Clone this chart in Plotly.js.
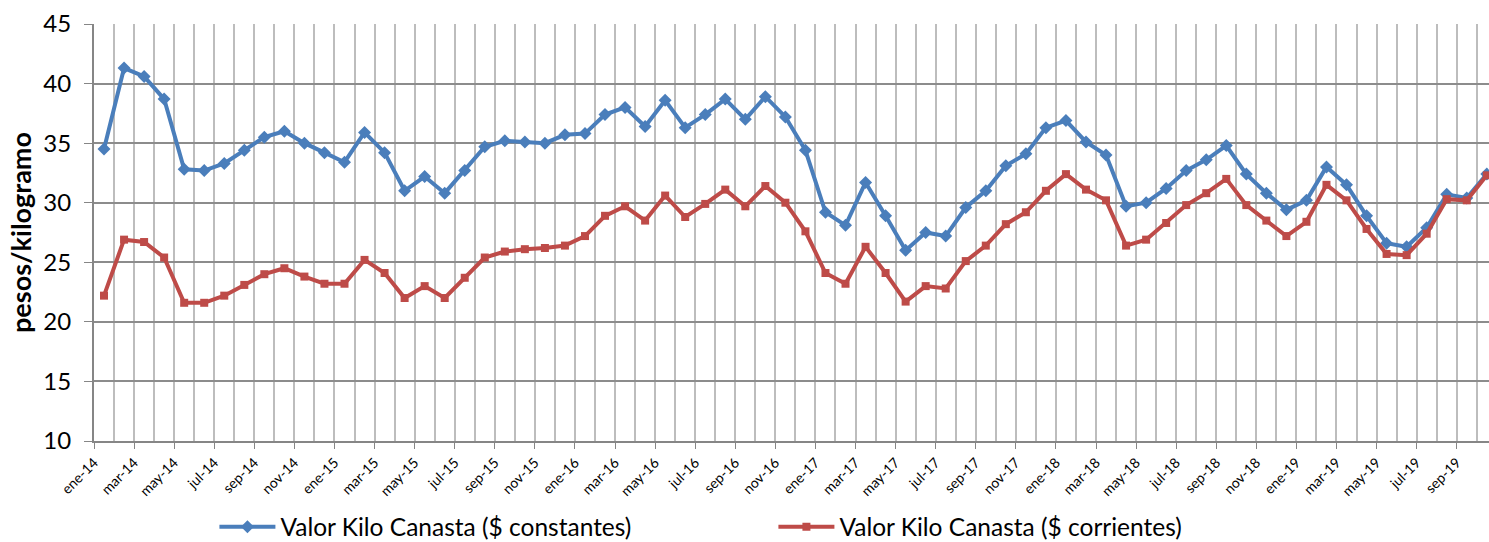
<!DOCTYPE html>
<html>
<head>
<meta charset="utf-8">
<script src="https://cdn.plot.ly/plotly-3.0.1.min.js"></script>
<style>
  html, body { margin: 0; padding: 0; background: #ffffff; }
  #chart { width: 1489px; height: 542px; }
</style>
</head>
<body>
<div id="chart"></div>
<script>
// Month categories (ene-14 .. oct-19)
const months = [
  "ene-14","feb-14","mar-14","abr-14","may-14","jun-14","jul-14","ago-14","sep-14","oct-14","nov-14","dic-14",
  "ene-15","feb-15","mar-15","abr-15","may-15","jun-15","jul-15","ago-15","sep-15","oct-15","nov-15","dic-15",
  "ene-16","feb-16","mar-16","abr-16","may-16","jun-16","jul-16","ago-16","sep-16","oct-16","nov-16","dic-16",
  "ene-17","feb-17","mar-17","abr-17","may-17","jun-17","jul-17","ago-17","sep-17","oct-17","nov-17","dic-17",
  "ene-18","feb-18","mar-18","abr-18","may-18","jun-18","jul-18","ago-18","sep-18","oct-18","nov-18","dic-18",
  "ene-19","feb-19","mar-19","abr-19","may-19","jun-19","jul-19","ago-19","sep-19","oct-19"
];

// Valor Kilo Canasta ($ constantes)
const constantes = [
  34.5, 41.3, 40.6, 38.7, 32.8, 32.7, 33.3, 34.4, 35.5, 36.0, 35.0, 34.2,
  33.4, 35.9, 34.2, 31.0, 32.2, 30.8, 32.7, 34.7, 35.2, 35.1, 35.0, 35.7,
  35.8, 37.4, 38.0, 36.4, 38.6, 36.3, 37.4, 38.7, 37.0, 38.9, 37.2, 34.4,
  29.2, 28.1, 31.7, 28.9, 26.0, 27.5, 27.2, 29.6, 31.0, 33.1, 34.1, 36.3,
  36.9, 35.1, 34.0, 29.7, 30.0, 31.2, 32.7, 33.6, 34.8, 32.4, 30.8, 29.4,
  30.2, 33.0, 31.5, 28.9, 26.6, 26.3, 27.9, 30.7, 30.4, 32.4
];

// Valor Kilo Canasta ($ corrientes)
const corrientes = [
  22.2, 26.9, 26.7, 25.4, 21.6, 21.6, 22.2, 23.1, 24.0, 24.5, 23.8, 23.2,
  23.2, 25.2, 24.1, 22.0, 23.0, 22.0, 23.7, 25.4, 25.9, 26.1, 26.2, 26.4,
  27.2, 28.9, 29.7, 28.5, 30.6, 28.8, 29.9, 31.1, 29.7, 31.4, 30.0, 27.6,
  24.1, 23.2, 26.3, 24.1, 21.7, 23.0, 22.8, 25.1, 26.4, 28.2, 29.2, 31.0,
  32.4, 31.1, 30.2, 26.4, 26.9, 28.3, 29.8, 30.8, 32.0, 29.8, 28.5, 27.2,
  28.4, 31.5, 30.2, 27.8, 25.7, 25.6, 27.4, 30.3, 30.2, 32.3
];

const seriesNames = ["Valor Kilo Canasta ($ constantes)", "Valor Kilo Canasta ($ corrientes)"];
const yTicks = [10, 15, 20, 25, 30, 35, 40, 45];

// Each month occupies one unit bucket; points sit at bucket centre
const xPos = months.map((m, i) => i + 0.5);
const tickVals = [], tickText = [];
months.forEach((m, i) => { if (i % 2 === 0) { tickVals.push(i); tickText.push(m); } });

const font = "Lato, 'Open Sans', 'Noto Sans', sans-serif";

const traces = [
  {
    x: xPos, y: constantes, name: seriesNames[0], type: "scatter", mode: "lines+markers",
    line: { color: "#4A7EBB", width: 4 },
    marker: { symbol: "diamond", size: 10, color: "#4A7EBB" }
  },
  {
    x: xPos, y: corrientes, name: seriesNames[1], type: "scatter", mode: "lines+markers",
    line: { color: "#BE4B48", width: 4 },
    marker: { symbol: "square", size: 8, color: "#BE4B48" }
  }
];

const layout = {
  width: 1489, height: 542,
  margin: { l: 94, r: 0, t: 24, b: 101, autoexpand: false },
  paper_bgcolor: "#ffffff", plot_bgcolor: "#ffffff",
  showlegend: true,
  legend: {
    orientation: "h", xref: "container", yref: "container",
    x: 0.144, xanchor: "left", y: 0.028, yanchor: "middle",
    entrywidth: 488, entrywidthmode: "pixels",
    font: { family: font, size: 24.5, color: "#000000" },
    itemwidth: 56
  },
  xaxis: {
    range: [0, 69.61],
    tickmode: "array", tickvals: tickVals, ticktext: tickText,
    tickangle: -45, ticks: "outside", ticklen: 6, tickcolor: "#868686",
    tickfont: { family: font, size: 14, color: "#000000" },
    showgrid: true, gridcolor: "#BDBDBD", gridwidth: 2,
    minor: { tickmode: "linear", tick0: 0, dtick: 1, showgrid: true, gridcolor: "#BDBDBD", gridwidth: 2, ticks: "" },
    showline: true, linecolor: "#868686", linewidth: 2,
    zeroline: false, fixedrange: true, automargin: false
  },
  yaxis: {
    range: [10, 45], tickmode: "array", tickvals: yTicks,
    ticks: "outside", ticklen: 8, tickcolor: "#868686",
    ticklabelstandoff: 8,
    tickfont: { family: font, size: 24, color: "#000000" },
    showgrid: true, gridcolor: "#8C8C8C", gridwidth: 2,
    showline: true, linecolor: "#868686", linewidth: 2,
    zeroline: false, automargin: false,
    title: { text: "pesos/kilogramo", font: { family: font, size: 27, color: "#000000", weight: "bold" }, standoff: 4 }
  }
};

Plotly.newPlot("chart", traces, layout, { displayModeBar: false, staticPlot: true });
</script>
</body>
</html>
